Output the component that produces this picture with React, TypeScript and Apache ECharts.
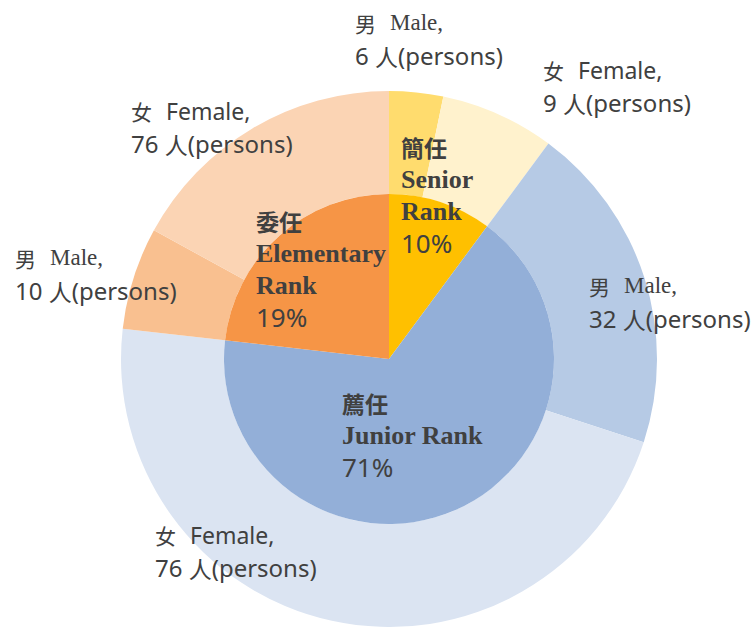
import React, { useEffect, useRef } from "react";
import * as echarts from "echarts";

// Inner ring: rank groups (clockwise from top)
const rankZh = ["簡任", "薦任", "委任"];
const rankEn = [["Senior", "Rank"], ["Junior Rank"], ["Elementary", "Rank"]];
const rankPctLabel = ["10%", "71%", "19%"];
// slice shares as drawn in the picture (degrees of the circle)
const rankShare = [36.5, 240, 83.5];
const rankColors = ["#FFC000", "#93AFD8", "#F69546"];

// Outer ring: gender split within each rank (clockwise from top)
const genderZh = ["男", "女", "男", "女", "男", "女"];
const genderEn = ["Male,", "Female,", "Male,", "Female,", "Male,", "Female,"];
const persons = [6, 9, 32, 76, 10, 76];
const genderShare = [11.7, 24.8, 71.6, 168.4, 22.2, 61.3];
const genderColors = ["#FFDC6E", "#FFF2CD", "#B6CAE5", "#DBE4F2", "#F9C090", "#FBD4B4"];

// label anchor positions (top-left of each label block)
const outerLabelPos = [
  [355, 6], [543, 53], [589, 269], [155, 518], [15, 241], [131, 94],
];
const innerLabelPos = [[401, 131], [342, 387], [256, 205]];

const TEXT = "#404040";

export default function App() {
  const ref = useRef<HTMLDivElement>(null);
  useEffect(() => {
    if (!ref.current) return;
    const chart = echarts.init(ref.current, undefined, { renderer: "svg" });
    const center = [389, 359];
    chart.setOption({
      animation: false,
      backgroundColor: "#ffffff",
      series: [
        {
          type: "pie",
          center,
          radius: [165, 268],
          startAngle: 90,
          clockwise: true,
          silent: true,
          avoidLabelOverlap: false,
          itemStyle: { borderWidth: 0 },
          labelLine: { show: false },
          label: {
            show: true,
            position: "outside",
            color: TEXT,
            formatter: (p: any) => {
              const i = p.dataIndex;
              const en = genderEn[i] === "Male," ? `{serif|${genderEn[i]}}` : `{sans|${genderEn[i]}}`;
              return `{cjk|${genderZh[i]}}{gap| }${en}\n{num|${persons[i]} }{cjk2|人}{num|(persons)}`;
            },
            rich: {
              cjk: { fontFamily: "Noto Sans CJK TC", fontSize: 21, color: TEXT, lineHeight: 33 },
              gap: { fontSize: 10, width: 14, lineHeight: 33 },
              serif: { fontFamily: "Liberation Serif", fontSize: 23, color: TEXT, lineHeight: 33 },
              sans: { fontFamily: "Noto Sans", fontSize: 23, color: TEXT, lineHeight: 33 },
              num: { fontFamily: "Noto Sans", fontSize: 24, color: TEXT, lineHeight: 33 },
              cjk2: { fontFamily: "Noto Sans CJK TC", fontSize: 23, color: TEXT, lineHeight: 33 },
            },
          },
          labelLayout: (p: any) => ({
            x: outerLabelPos[p.dataIndex][0],
            y: outerLabelPos[p.dataIndex][1],
            align: "left",
            verticalAlign: "top",
          }),
          data: genderShare.map((v, i) => ({
            value: v,
            name: `${rankEn[Math.floor(i / 2)].join(" ")} ${genderEn[i]}`,
            itemStyle: { color: genderColors[i] },
          })),
        },
        {
          type: "pie",
          center,
          radius: [0, 165],
          startAngle: 90,
          clockwise: true,
          silent: true,
          avoidLabelOverlap: false,
          itemStyle: { borderWidth: 0 },
          labelLine: { show: false },
          label: {
            show: true,
            position: "inside",
            color: TEXT,
            formatter: (p: any) => {
              const i = p.dataIndex;
              const en = rankEn[i].map((s) => `{en|${s}}`).join("\n");
              return `{zh|${rankZh[i]}}\n${en}\n{pct|${rankPctLabel[i]}}`;
            },
            rich: {
              zh: { fontFamily: "Noto Sans CJK TC", fontWeight: "bold", fontSize: 23, color: TEXT, lineHeight: 32 },
              en: { fontFamily: "Liberation Serif", fontWeight: "bold", fontSize: 26, color: TEXT, lineHeight: 32 },
              pct: { fontFamily: "Noto Sans", fontSize: 26, color: TEXT, lineHeight: 32 },
            },
          },
          labelLayout: (p: any) => ({
            x: innerLabelPos[p.dataIndex][0],
            y: innerLabelPos[p.dataIndex][1],
            align: "left",
            verticalAlign: "top",
          }),
          data: rankShare.map((v, i) => ({
            value: v,
            name: rankZh[i],
            itemStyle: { color: rankColors[i] },
          })),
        },
      ],
    });
    return () => chart.dispose();
  }, []);
  return (
    <div
      ref={ref}
      style={{ position: "fixed", left: 0, top: 0, width: 756, height: 627 }}
    />
  );
}
